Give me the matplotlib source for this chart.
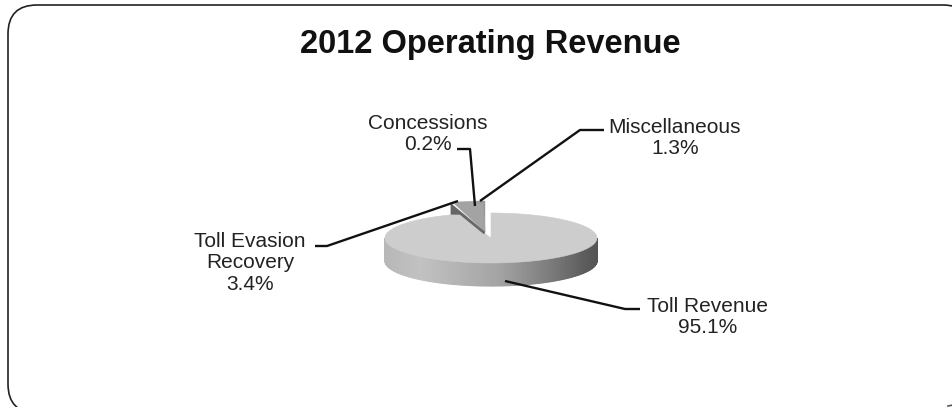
import numpy as np
import matplotlib
matplotlib.use('Agg')
from matplotlib import pyplot as plt
from matplotlib.patches import FancyBboxPatch, Polygon

plt.rcParams['font.family'] = ['Liberation Sans', 'DejaVu Sans']

categories = ['Toll Revenue', 'Toll Evasion\nRecovery', 'Concessions', 'Miscellaneous']
shares = [95.1, 3.4, 0.2, 1.3]
title = '2012 Operating Revenue'

# pie geometry in pixels
cx, cy = 491, 238
rx, ry = 106, 25
depth = 23


def slice_edges():
    # clockwise from 12 o'clock
    edges = np.cumsum([0] + shares) / sum(shares) * 360
    return edges[:-1], edges[1:]


def rim(angle, ox=cx, oy=cy, ax_r=rx, ay_r=ry):
    a = np.radians(angle)
    return ox + ax_r * np.sin(a), oy - ay_r * np.cos(a)


def side_gray(x):
    # horizontal shading of the pie wall
    stops_x = [385, 420, 500, 545, 585, 597]
    stops_g = [0.72, 0.76, 0.64, 0.50, 0.36, 0.33]
    return str(np.interp(x, stops_x, stops_g))


fig = plt.figure(figsize=(9.53, 4.07), dpi=100)
ax = fig.add_axes([0, 0, 1, 1])
ax.set_xlim(0, 953)
ax.set_ylim(407, 0)
ax.axis('off')

# frame runs off the right and bottom of the picture
frame = FancyBboxPatch((8, 5), 964, 408, boxstyle='round,pad=0,rounding_size=29',
                       fc='white', ec='#222222', lw=1.2, zorder=1)
ax.add_patch(frame)
ax.plot([948, 953], [406, 405], color='#555555', lw=1.2, zorder=1)

starts, ends = slice_edges()

# wall of the main slice
th = np.linspace(90, 270, 181)
for a0, a1 in zip(th[:-1], th[1:]):
    x0, y0 = rim(a0)
    x1, y1 = rim(a1)
    g = side_gray((x0 + x1) / 2)
    ax.add_patch(Polygon([(x0, y0), (x1, y1), (x1, y1 + depth), (x0, y0 + depth)],
                         fc=g, ec=g, lw=0.8, zorder=2))

# top of the main slice
th = np.linspace(starts[0], ends[0], 200)
px, py = rim(th)
ax.add_patch(Polygon(np.column_stack([np.r_[cx, px], np.r_[cy, py]]),
                     fc='#cdcdcd', ec='#cdcdcd', lw=0.4, zorder=3))

# the three small slices, pulled out towards the back
tip_x, tip_y = 485, 232
up_rx, up_ry = 106, 31
slice_colors = ['#a3a3a3', '#8c8c8c', '#999999']
for s, e, c in zip(starts[1:], ends[1:], slice_colors):
    th = np.linspace(s, e, 12)
    px, py = rim(th, tip_x, tip_y, up_rx, up_ry)
    ax.add_patch(Polygon(np.column_stack([np.r_[tip_x, px], np.r_[tip_y, py]]),
                         fc=c, ec=c, lw=0.3, zorder=5))

# dark cut face on the left of the pulled out slices
lx, ly = rim(starts[1], tip_x, tip_y, up_rx, up_ry)
ax.add_patch(Polygon([(lx - 2, ly + 1), (lx - 2, ly + 12), (lx + 7, ly + 12), (tip_x - 1, tip_y + 2), (tip_x, tip_y)],
                     fc='#666666', ec='#666666', lw=0.3, zorder=6))
ax.add_patch(Polygon([(lx + 7, ly + 1), (lx + 30, ly + 1), (tip_x, tip_y - 5), (tip_x, tip_y - 1)],
                     fc=slice_colors[0], ec=slice_colors[0], lw=0.3, zorder=6))

# leader lines
leaders = [
    [(505, 281), (625, 309), (640, 309)],
    [(315, 246), (327, 246), (458, 201)],
    [(457, 149), (470, 149), (475, 206)],
    [(604, 130), (580, 130), (480, 201)],
]
for pts in leaders:
    xs, ys = zip(*pts)
    ax.plot(xs, ys, color='#111111', lw=1.7, zorder=7, solid_capstyle='butt')

# labels
label_xy = [(708, 317), (250, 263), (428, 134), (675, 138)]
for name, val, (x, y) in zip(categories, shares, label_xy):
    ax.text(x, y, f'{name}\n{val:.1f}%', ha='center', va='center', fontsize=15,
            color='#222222', linespacing=1.15, zorder=8)

ax.text(490, 45, title, ha='center', va='center', fontsize=23.5, fontweight='bold', color='#111111')

fig.savefig('out.png', dpi=100)
